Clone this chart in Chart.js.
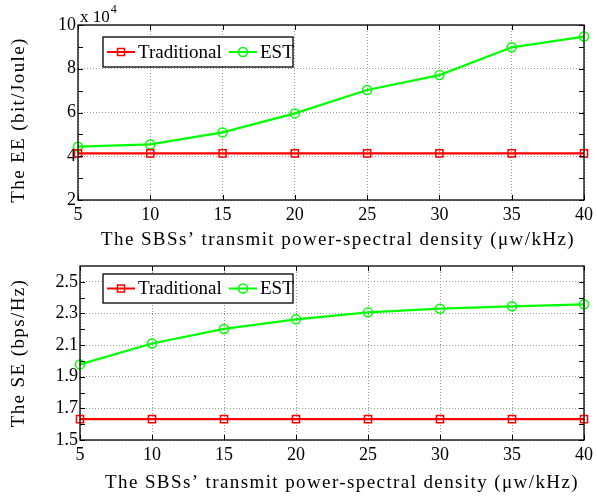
<!DOCTYPE html>
<html>
<head>
<meta charset="utf-8">
<script src="https://cdn.jsdelivr.net/npm/chart.js@4.4.0/dist/chart.umd.min.js"></script>
<style>
  body { margin: 0; background: #fff; }
  #wrap { position: relative; width: 597px; height: 498px; }
  canvas { position: absolute; left: 0; }
</style>
</head>
<body>
<div id="wrap">
  <canvas id="eeChart" width="597" height="250" style="top:0"></canvas>
  <canvas id="seChart" width="597" height="248" style="top:250px"></canvas>
</div>
<script>
// x positions (power-spectral density, uw/kHz)
const xValues = [5, 10, 15, 20, 25, 30, 35, 40];

// energy efficiency, in units of 10^4 bit/Joule
const eeTraditional = [4.13, 4.13, 4.13, 4.13, 4.13, 4.13, 4.13, 4.13];
const eeEst = [4.44, 4.54, 5.09, 5.96, 7.03, 7.71, 8.98, 9.47];
const eeYTicks = [2, 4, 6, 8, 10];
const eeYMinor = [3, 5, 7, 9];

// spectral efficiency, bps/Hz
const seTraditional = [1.632, 1.632, 1.632, 1.632, 1.632, 1.632, 1.632, 1.632];
const seEst = [1.978, 2.11, 2.202, 2.263, 2.307, 2.33, 2.345, 2.358];
const seYTicks = [1.5, 1.7, 1.9, 2.1, 2.3, 2.5];
const seYMinor = [1.6, 1.8, 2.0, 2.2, 2.4];

const seriesNames = ['Traditional', 'EST'];
const xTitle = 'The SBSs\u2019 transmit power-spectral density (\u03bcw/kHz)';

const FONT = 'Liberation Serif';
const RED = '#ff0000';
const GREEN = '#00ff00';

function toPoints(ys) {
  return xValues.map((x, i) => ({ x: x, y: ys[i] }));
}

// box, inward tick marks (major + minor)
const framePlugin = {
  id: 'frame',
  afterDatasetsDraw(chart, args, opts) {
    const { ctx, chartArea: a, scales } = chart;
    ctx.save();
    ctx.strokeStyle = '#000';
    ctx.lineWidth = 1;
    ctx.beginPath();
    xValues.forEach((v) => {
      const px = Math.round(scales.x.getPixelForValue(v)) + 0.5;
      ctx.moveTo(px, a.bottom); ctx.lineTo(px, a.bottom - 5);
      ctx.moveTo(px, a.top); ctx.lineTo(px, a.top + 5);
    });
    opts.yTicks.concat(opts.yMinor).forEach((v) => {
      const py = Math.round(scales.y.getPixelForValue(v)) + 0.5;
      ctx.moveTo(a.left, py); ctx.lineTo(a.left + 5, py);
      ctx.moveTo(a.right, py); ctx.lineTo(a.right - 5, py);
    });
    ctx.stroke();
    ctx.lineWidth = 1.3;
    ctx.strokeRect(a.left, a.top, a.right - a.left, a.bottom - a.top);
    ctx.restore();
  },
};

function drawMarker(ctx, style, x, y, color) {
  ctx.strokeStyle = color;
  ctx.lineWidth = 1.5;
  ctx.beginPath();
  if (style === 'rect') {
    ctx.rect(x - 3.5, y - 3.5, 7, 7);
  } else {
    ctx.arc(x, y, 4.5, 0, Math.PI * 2);
  }
  ctx.stroke();
}

// legend box like the original figure
const legendBoxPlugin = {
  id: 'legendBox',
  afterDraw(chart, args, opts) {
    const { ctx } = chart;
    const b = opts.box;
    ctx.save();
    ctx.fillStyle = '#fff';
    ctx.fillRect(b.x, b.y, b.w, b.h);
    ctx.strokeStyle = '#000';
    ctx.lineWidth = 1.3;
    ctx.strokeRect(b.x, b.y, b.w, b.h);
    const cy = b.y + b.h / 2;
    const items = [
      { x: b.x + 4, label: seriesNames[0], color: RED, style: 'rect' },
      { x: b.x + 126, label: seriesNames[1], color: GREEN, style: 'circle' },
    ];
    items.forEach((it) => {
      ctx.strokeStyle = it.color;
      ctx.lineWidth = 2;
      ctx.beginPath();
      ctx.moveTo(it.x, cy);
      ctx.lineTo(it.x + 28, cy);
      ctx.stroke();
      drawMarker(ctx, it.style, it.x + 14, cy, it.color);
      ctx.fillStyle = '#000';
      ctx.font = '19px "' + FONT + '"';
      ctx.textBaseline = 'middle';
      ctx.fillText(it.label, it.x + 31, cy + 1);
    });
    ctx.restore();
  },
};

// "x 10^4" multiplier above the y axis
const exponentPlugin = {
  id: 'exponent',
  afterDraw(chart, args, opts) {
    if (!opts.show) return;
    const { ctx, chartArea: a } = chart;
    ctx.save();
    ctx.fillStyle = '#000';
    ctx.textBaseline = 'alphabetic';
    ctx.font = '17px "' + FONT + '"';
    ctx.fillText('x 10', a.left + 2, a.top - 3);
    const w = ctx.measureText('x 10').width;
    ctx.font = '12px "' + FONT + '"';
    ctx.fillText('4', a.left + 3 + w, a.top - 12);
    ctx.restore();
  },
};

// axis titles, a bit letter-spaced to get the width of the LaTeX font
const axisTitlePlugin = {
  id: 'axisTitles',
  afterDraw(chart, args, opts) {
    const { ctx } = chart;
    ctx.save();
    ctx.fillStyle = '#000';
    ctx.font = '19px "' + FONT + '"';
    ctx.letterSpacing = '1.4px';
    ctx.textAlign = 'center';
    ctx.textBaseline = 'alphabetic';
    ctx.fillText(xTitle, opts.xTitleX, opts.xTitleY);
    ctx.translate(opts.yTitleX, opts.yTitleY);
    ctx.rotate(-Math.PI / 2);
    ctx.textBaseline = 'middle';
    ctx.fillText(opts.yTitle, 0, 0);
    ctx.restore();
  },
};

function makeChart(id, cfg) {
  const ctx = document.getElementById(id).getContext('2d');
  return new Chart(ctx, {
    type: 'line',
    data: {
      datasets: [
        {
          label: seriesNames[0],
          data: toPoints(cfg.trad),
          borderColor: RED,
          backgroundColor: 'transparent',
          borderWidth: 2.2,
          pointStyle: 'rect',
          pointRadius: 5,
          pointBorderWidth: 1.5,
          pointBackgroundColor: 'transparent',
          pointBorderColor: RED,
          clip: false,
        },
        {
          label: seriesNames[1],
          data: toPoints(cfg.est),
          borderColor: GREEN,
          backgroundColor: 'transparent',
          borderWidth: 2.2,
          pointStyle: 'circle',
          pointRadius: 4.5,
          pointBorderWidth: 1.5,
          pointBackgroundColor: 'transparent',
          pointBorderColor: GREEN,
          clip: false,
        },
      ],
    },
    options: {
      responsive: false,
      animation: false,
      events: [],
      layout: { padding: cfg.padding },
      plugins: {
        legend: { display: false },
        tooltip: { enabled: false },
        frame: { yTicks: cfg.yTicks, yMinor: cfg.yMinor },
        legendBox: { box: cfg.legend },
        exponent: { show: cfg.exponent },
        axisTitles: cfg.titles,
      },
      scales: {
        x: {
          type: 'linear',
          min: 5,
          max: 40,
          afterBuildTicks: (s) => { s.ticks = xValues.map((v) => ({ value: v })); },
          afterFit: (s) => { s.height = cfg.xAxisH; },
          grid: { color: '#9a9a9a', lineWidth: 1, drawTicks: false },
          border: { display: false, dash: [1, 2] },
          ticks: { color: '#000', padding: 4, maxRotation: 0, font: { family: FONT, size: 18 } },
        },
        y: {
          type: 'linear',
          min: cfg.yMin,
          max: cfg.yMax,
          afterBuildTicks: (s) => { s.ticks = cfg.yTicks.map((v) => ({ value: v })); },
          afterFit: (s) => { s.width = cfg.yAxisW; },
          grid: { color: '#9a9a9a', lineWidth: 1, drawTicks: false },
          border: { display: false, dash: [1, 2] },
          ticks: {
            color: '#000',
            padding: 2,
            font: { family: FONT, size: 18 },
            callback: cfg.yFormat,
          },
        },
      },
    },
    plugins: [framePlugin, legendBoxPlugin, exponentPlugin, axisTitlePlugin],
  });
}

makeChart('eeChart', {
  trad: eeTraditional,
  est: eeEst,
  yMin: 2,
  yMax: 10,
  yTicks: eeYTicks,
  yMinor: eeYMinor,
  yFormat: (v) => String(v),
  padding: { left: 0, top: 25, right: 12, bottom: 0 },
  yAxisW: 78,
  xAxisH: 50,
  legend: { x: 103, y: 37, w: 190, h: 30 },
  exponent: true,
  titles: { yTitle: 'The EE (bit/Joule)', xTitleX: 338, xTitleY: 245, yTitleX: 19, yTitleY: 120 },
});

makeChart('seChart', {
  trad: seTraditional,
  est: seEst,
  yMin: 1.5,
  yMax: 2.6,
  yTicks: seYTicks,
  yMinor: seYMinor,
  yFormat: (v) => Number(v).toFixed(1),
  padding: { left: 0, top: 16, right: 10, bottom: 0 },
  yAxisW: 80,
  xAxisH: 58,
  legend: { x: 103, y: 24, w: 190, h: 29 },
  exponent: false,
  titles: { yTitle: 'The SE (bps/Hz)', xTitleX: 342, xTitleY: 238, yTitleX: 19, yTitleY: 103 },
});
</script>
</body>
</html>
